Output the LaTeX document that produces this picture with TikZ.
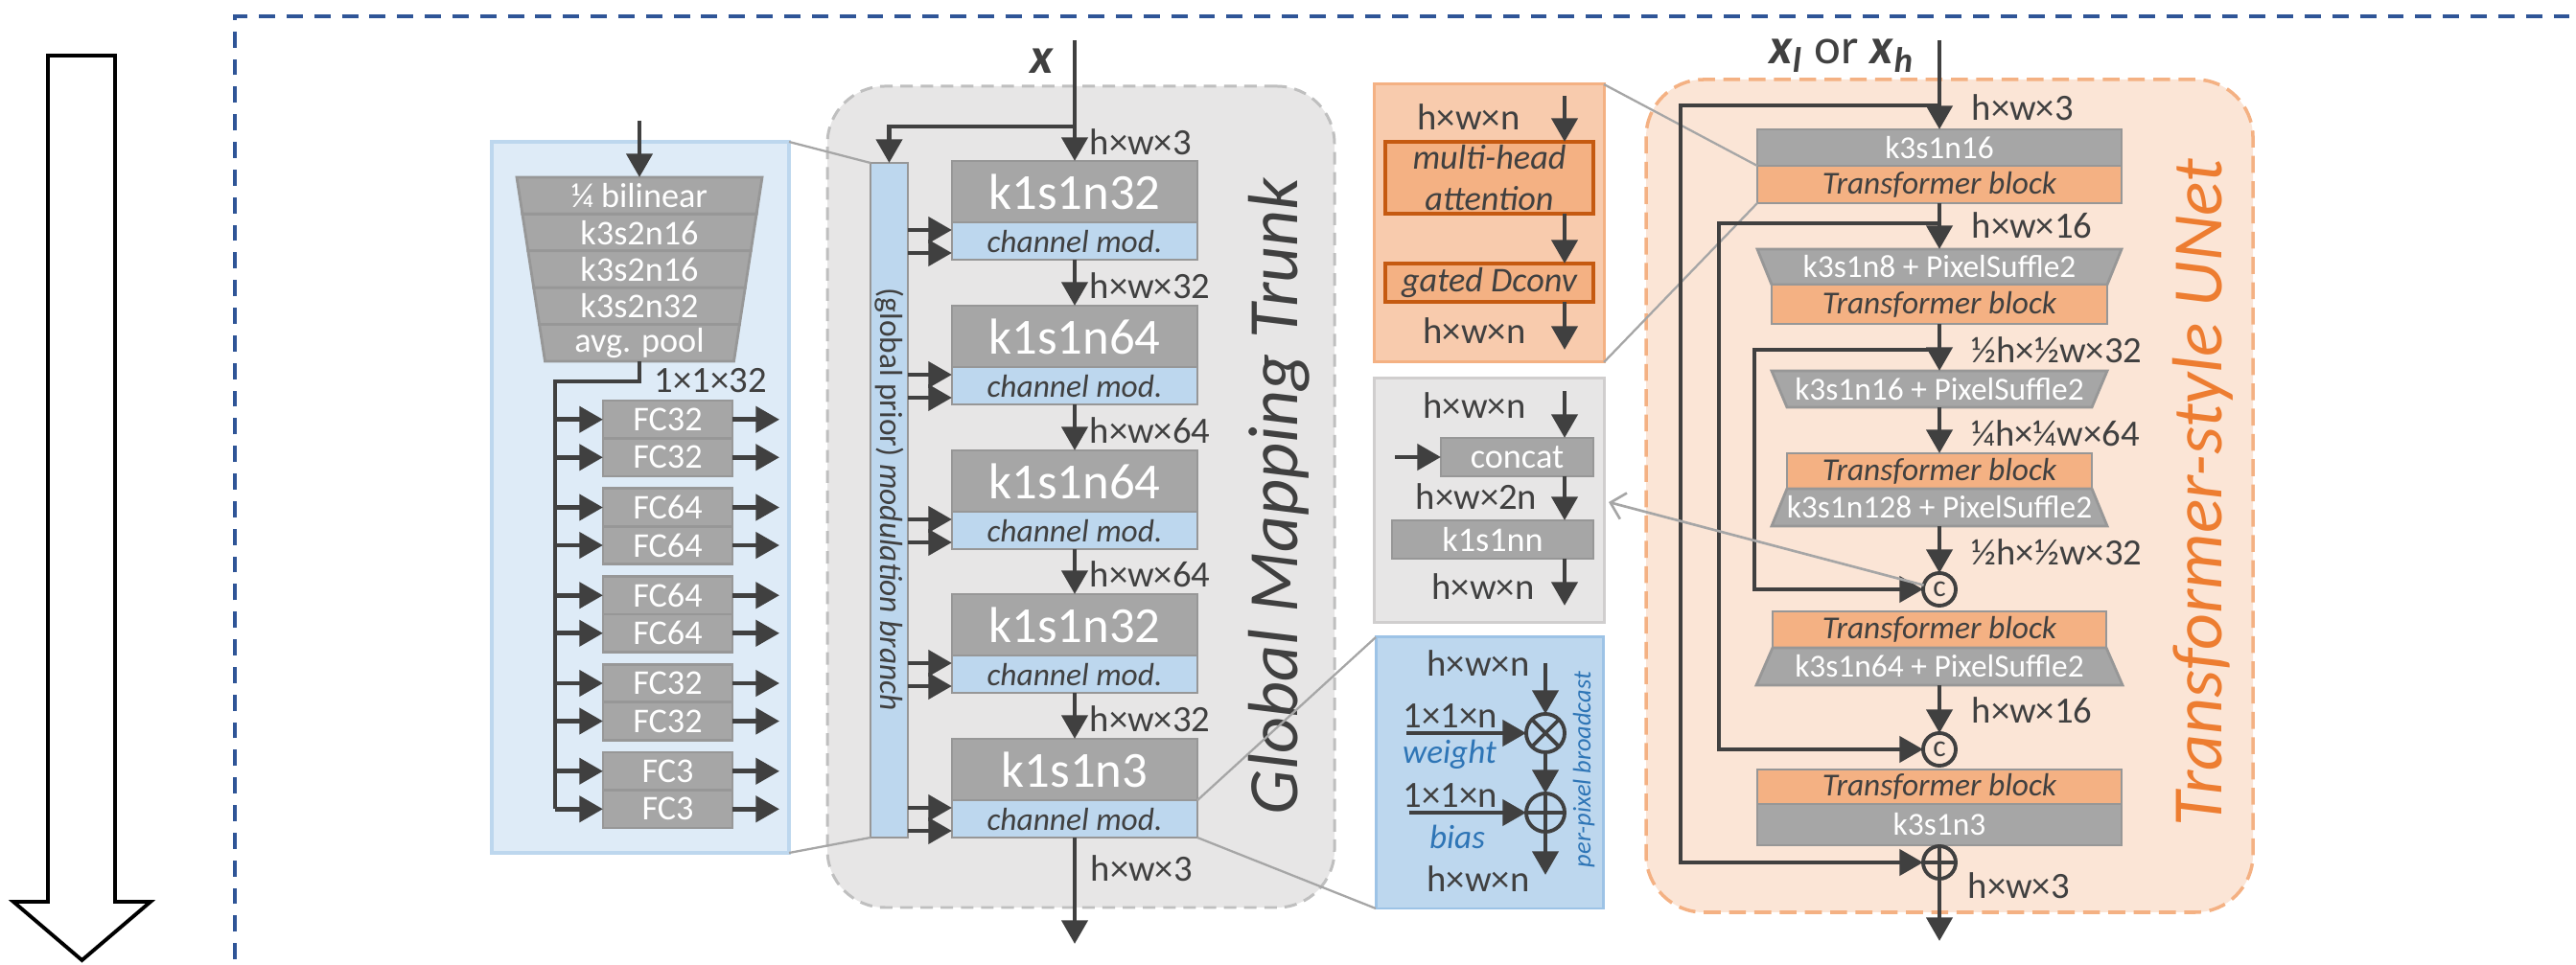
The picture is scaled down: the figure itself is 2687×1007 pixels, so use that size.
\documentclass[tikz,border=0pt]{standalone}
\usepackage{fontspec}
\setmainfont{Carlito}
\usetikzlibrary{arrows.meta}
\definecolor{dk}{HTML}{404040}
\definecolor{gbf}{HTML}{A6A6A6}
\definecolor{gbd}{HTML}{979797}
\definecolor{bmod}{HTML}{BDD7EE}
\definecolor{pnlf}{HTML}{DEEBF7}
\definecolor{pnld}{HTML}{BDD7EE}
\definecolor{trf}{HTML}{E7E6E6}
\definecolor{trd}{HTML}{BFBFBF}
\definecolor{orf}{HTML}{F8CBAD}
\definecolor{ord}{HTML}{F4B183}
\definecolor{orin}{HTML}{F4B183}
\definecolor{ordk}{HTML}{C55A11}
\definecolor{unf}{HTML}{FBE5D6}
\definecolor{blt}{HTML}{2E75B6}
\definecolor{ttl}{HTML}{ED7D31}
\definecolor{outb}{HTML}{2F5597}
\definecolor{cng}{HTML}{A6A6A6}
\definecolor{bdd}{HTML}{9DC3E6}
\definecolor{gdd}{HTML}{D0CECE}
\newcommand\fbig{\fontsize{15}{18}\selectfont}
\newcommand\fsm{\fontsize{9.5}{11.5}\selectfont}
\newcommand\fmd{\fontsize{10.3}{12}\selectfont}
\newcommand\fdim{\fontsize{11}{13}\selectfont}
\newcommand\ftitle{\fontsize{21}{24}\selectfont\itshape}
\newcommand\ftiny{\fontsize{7.5}{9}\selectfont}
\newcommand\mkbox[7]{\node[#2, minimum width={(#5-#3)*0.01cm}, minimum height={(#6-#4)*0.01cm}] (#1) at ({(#3+#5)/2},{(#4+#6)/2}) {#7};}
\begin{document}
\begin{tikzpicture}[x=0.01cm,y=-0.01cm,
  gb/.style={draw=gbd, fill=gbf, line width=0.8pt, inner sep=0pt, outer sep=0pt, text=white, font=\fsm},
  bm/.style={gb, fill=bmod, text=dk, font=\fsm\itshape},
  tb/.style={gb, fill=orin, text=dk, font=\fsm\itshape},
  tx/.style={inner sep=0pt, outer sep=0pt, text=white, font=\fsm},
  tp/.style={draw=gbd, fill=gbf, line width=0.8pt},
  dl/.style={inner sep=0pt, text=dk, font=\fdim, anchor=west},
  dc/.style={inner sep=0pt, text=dk, font=\fdim},
  bl/.style={inner sep=0pt, text=blt, font=\fontsize{10}{12}\selectfont\itshape},
  ar/.style={draw=dk, line width=1.4pt, -{Triangle[length=7pt,width=7.6pt]}},
  ln/.style={draw=dk, line width=1.4pt},
  cn/.style={draw=cng, line width=0.65pt},
  op/.style={circle, draw=dk, line width=1.1pt, inner sep=0pt, outer sep=0pt, text=dk, font=\fontsize{9}{10}\selectfont},
  pn/.style={draw=pnld, fill=pnlf, line width=1pt, inner sep=0pt, outer sep=0pt},
  trk/.style={draw=trd, fill=trf, line width=0.85pt, dash pattern=on 3.7pt off 2.3pt, rounded corners=0.6cm, inner sep=0pt, outer sep=0pt},
  unt/.style={draw=ord, fill=unf, line width=1pt, dash pattern=on 5pt off 2.5pt, rounded corners=0.6cm, inner sep=0pt, outer sep=0pt},
  odx/.style={draw=ord, fill=orf, line width=0.85pt, inner sep=0pt, outer sep=0pt},
  gdx/.style={draw=gdd, fill=trf, line width=0.85pt, inner sep=0pt, outer sep=0pt},
  bdx/.style={draw=bdd, fill=bmod, line width=0.85pt, inner sep=0pt, outer sep=0pt},
  ib/.style={draw=ordk, fill=orin, line width=1.1pt, inner sep=0pt, outer sep=0pt, text=dk, font=\fmd\itshape, align=center},
  mbx/.style={draw=gbd, fill=bmod, line width=0.8pt, inner sep=0pt, outer sep=0pt}
]
\useasboundingbox (0,0) rectangle (2687,1007);
\clip (0,0) rectangle (2687,1007);

% outer dashed frame
\draw[outb, line width=0.9pt, dash pattern=on 4.8pt off 3.4pt] (245,1030) -- (245,17) -- (2720,17);

% big white arrow
\draw[black, line width=1.1pt, fill=white] (50,58) -- (120,58) -- (120,941) -- (157,941) -- (85.5,1002) -- (14,941) -- (50,941) -- cycle;

% containers
\mkbox{pnl}{pn}{513}{148}{823}{890}{}
\mkbox{trunk}{trk}{863}{90}{1392}{947}{}
\mkbox{unet}{unt}{1717}{83}{2350}{952}{}
\mkbox{od}{odx}{1433}{88}{1673}{378}{}
\mkbox{gd}{gdx}{1433}{395}{1673}{650}{}
\mkbox{bd}{bdx}{1435}{665}{1672}{948}{}

% ---------------- left panel ----------------
\coordinate (pin) at (667,126);
\foreach \i/\lab in {0/{¼ bilinear},1/k3s2n16,2/k3s2n16,3/k3s2n32,4/{avg. pool}}{
  \pgfmathsetmacro\ya{185+38.4*\i}
  \pgfmathsetmacro\yb{\ya+38.4}
  \pgfmathsetmacro\ha{128-5.9*\i}
  \pgfmathsetmacro\hb{\ha-5.9}
  \path[tp] ({667-\ha},\ya) -- ({667+\ha},\ya) -- ({667+\hb},\yb) -- ({667-\hb},\yb) -- cycle;
  \node[tx, font=\fmd, minimum height=0.384cm] (stk\i) at (667,{(\ya+\yb)/2}) {\lab};
}
\draw[ar] (pin) -- (stk0.north);
\node[dl] (p32) at (682,397) {1×1×32};
\coordinate (bus) at (579,398);
\foreach \i/\lab in {0/FC32,1/FC64,2/FC64,3/FC32,4/FC3}{
  \pgfmathsetmacro\ty{418+91.75*\i}
  \node[gb, font=\fmd, minimum width=1.35cm, minimum height=0.395cm, anchor=north] (fa\i) at (696.5,\ty) {\lab};
  \node[gb, font=\fmd, minimum width=1.35cm, minimum height=0.395cm, anchor=north] (fb\i) at (fa\i.south) {\lab};
}
\draw[ln] (stk4.south) |- (bus) -- (fb4.west -| bus);
\foreach \i in {0,...,4}{
  \draw[ar] (fa\i.west -| bus) -- (fa\i.west);
  \draw[ar] (fb\i.west -| bus) -- (fb\i.west);
  \draw[ar] (fa\i.east) -- ++(49,0);
  \draw[ar] (fb\i.east) -- ++(49,0);
}

% ---------------- trunk ----------------
\mkbox{mb}{mbx}{908}{170}{947}{874}{}
\node[rotate=-90, inner sep=0pt, text=dk, font=\fsm] (mbt) at (927.5,521) {(global prior) \textit{modulation branch}};
\draw[cn] (pnl.north east) -- (mb.north west);
\draw[cn] (pnl.south east) -- (mb.south west);
\coordinate (xin) at (1121,42);
\coordinate (brj) at (1121,132);
\node[inner sep=0pt, anchor=base, text=dk, font=\fbig\bfseries\itshape] (xl) at (1087,77) {x};
\foreach \i/\lab/\t in {1/k1s1n32/168,2/k1s1n64/319,3/k1s1n64/470,4/k1s1n32/620,5/k1s1n3/771}{
  \node[gb, font=\fbig, minimum width=2.56cm, minimum height=0.64cm, anchor=north] (g\i) at (1121,\t) {\lab};
  \node[bm, minimum width=2.56cm, minimum height=0.39cm, anchor=north] (m\i) at (g\i.south) {channel mod.};
  \pgfmathsetmacro\ya{\t+72}
  \pgfmathsetmacro\yb{\t+96}
  \draw[ar] (mb.east |- 0,\ya) -- (m\i.west |- 0,\ya);
  \draw[ar] (mb.east |- 0,\yb) -- (m\i.west |- 0,\yb);
}
\draw[ar] (xin) -- (g1.north);
\draw[ar] (brj) -| (mb.north);
\foreach \a/\b in {1/2,2/3,3/4,4/5} \draw[ar] (m\a.south) -- (g\b.north);
\coordinate (tout) at (1121,985);
\draw[ar] (m5.south) -- (tout);
\node[dl] (dt0) at (1136,148) {h×w×3};
\node[dl] (dt1) at (1136,298) {h×w×32};
\node[dl] (dt2) at (1136,449) {h×w×64};
\node[dl] (dt3) at (1136,599) {h×w×64};
\node[dl] (dt4) at (1136,750) {h×w×32};
\node[dl] (dt5) at (1137,906) {h×w×3};
\node[rotate=90, anchor=base, inner sep=0pt, font=\ftitle, text=dk] (tt) at (1353,518) {Global Mapping Trunk};
\draw[cn] (g5.south east) -- (bd.north west);
\draw[cn] (m5.south east) -- (bd.south west);

% ---------------- orange detail ----------------
\node[dc] (od1) at (1532,122) {h×w×n};
\coordinate (oda) at (1632,100);
\mkbox{mha}{ib}{1445}{148}{1662}{223}{multi-head\\attention}
\mkbox{gdc}{ib}{1445}{275}{1662}{315}{gated Dconv}
\draw[ar] (oda) -- (oda |- mha.north);
\draw[ar] (oda |- mha.south) -- (oda |- gdc.north);
\coordinate (odb) at (1632,365);
\draw[ar] (oda |- gdc.south) -- (odb);
\node[dc] (od2) at (1538,345) {h×w×n};

% ---------------- gray detail ----------------
\node[dc] (gd1) at (1538,423) {h×w×n};
\coordinate (gda) at (1632,408);
\mkbox{cat}{gb,font=\fmd}{1503}{457}{1662}{497}{concat}
\draw[ar] (gda) -- (gda |- cat.north);
\coordinate (gdl) at (1455,477);
\draw[ar] (gdl) -- (cat.west |- gdl);
\node[dc] (gd2) at (1540,518) {h×w×2n};
\mkbox{kn}{gb,font=\fmd}{1452}{543}{1662}{583}{k1s1nn}
\draw[ar] (gda |- cat.south) -- (gda |- kn.north);
\coordinate (gdb) at (1632,632);
\draw[ar] (gda |- kn.south) -- (gdb);
\node[dc] (gd3) at (1547,612) {h×w×n};

% ---------------- blue detail ----------------
\node[dc] (bd1) at (1542,692) {h×w×n};
\coordinate (bda) at (1612,692);
\node[op, minimum size=0.4cm] (mul) at (1612,765) {};
\draw[dk, line width=1.1pt] (mul.north west) -- (mul.south east) (mul.north east) -- (mul.south west);
\draw[ar] (bda) -- (mul.north);
\node[dc] (bd2) at (1513,747) {1×1×n};
\coordinate (bdw) at (1467,765);
\draw[ar] (bdw) -- (mul.west);
\node[bl] (bd3) at (1512,787) {weight};
\node[op, minimum size=0.4cm] (add) at (1612,848) {};
\draw[dk, line width=1.1pt] (add.north) -- (add.south) (add.west) -- (add.east);
\draw[ar] (mul.south) -- (add.north);
\node[dc] (bd4) at (1513,830) {1×1×n};
\coordinate (bdb) at (1470,848);
\draw[ar] (bdb) -- (add.west);
\node[bl] (bd5) at (1520,873) {bias};
\coordinate (bdo) at (1612,913);
\draw[ar] (add.south) -- (bdo);
\node[dc] (bd6) at (1542,917) {h×w×n};
\node[bl, font=\ftiny\itshape, rotate=90] (bd7) at (1652,803) {per-pixel broadcast};

% ---------------- UNet ----------------
\mkbox{u1g}{gb}{1833}{135}{2213}{173}{k3s1n16}
\mkbox{u1t}{tb}{1833}{173}{2213}{212}{Transformer block}
\draw[cn] (od.north east) -- (u1t.north west);
\draw[cn] (od.south east) -- (u1t.south west);
\path[tp] (1833,260) -- (2213,260) -- (2198,297) -- (1848,297) -- cycle;
\node[tx, minimum height=0.37cm] (u2g) at (2023,278.5) {k3s1n8 + PixelSuffle2};
\mkbox{u2t}{tb}{1848}{297}{2198}{338}{Transformer block}
\path[tp] (1848,387) -- (2198,387) -- (2182,425) -- (1864,425) -- cycle;
\node[tx, minimum height=0.38cm] (u3g) at (2023,406) {k3s1n16 + PixelSuffle2};
\mkbox{u4t}{tb}{1864}{473}{2182}{510}{Transformer block}
\path[tp] (1864,510) -- (2182,510) -- (2198,549) -- (1848,549) -- cycle;
\node[tx, minimum height=0.39cm] (u4g) at (2023,529.5) {k3s1n128 + PixelSuffle2};
\node[op, minimum size=0.34cm] (c1) at (2023,615) {c};
\mkbox{u5t}{tb}{1849}{638}{2197}{676}{Transformer block}
\path[tp] (1849,676) -- (2197,676) -- (2214,715) -- (1832,715) -- cycle;
\node[tx, minimum height=0.39cm] (u5g) at (2023,695.5) {k3s1n64 + PixelSuffle2};
\node[op, minimum size=0.34cm] (c2) at (2023,782) {c};
\mkbox{u6t}{tb}{1833}{803}{2213}{839}{Transformer block}
\mkbox{u6g}{gb}{1833}{839}{2213}{882}{k3s1n3}
\node[op, minimum size=0.34cm] (pl) at (2023,900) {};
\draw[dk, line width=1.1pt] (pl.north) -- (pl.south) (pl.west) -- (pl.east);

\coordinate (uin) at (2023,42);
\coordinate (j1) at (2023,110);
\coordinate (k1) at (1753,110);
\coordinate (j2) at (2023,233);
\coordinate (k2) at (1793,233);
\coordinate (j3) at (2023,365);
\coordinate (k3) at (1830,365);
\draw[ar] (j1) -- (k1) |- (pl.west);
\draw[ar] (j2) -- (k2) |- (c2.west);
\draw[ar] (j3) -- (k3) |- (c1.west);
\draw[ar] (uin) -- (u1g.north);
\draw[ar] (u1t.south) -- (u2g.north);
\draw[ar] (u2t.south) -- (u3g.north);
\draw[ar] (u3g.south) -- (u4t.north);
\draw[ar] (u4g.south) -- (c1.north);
\draw[ar] (u5g.south) -- (c2.north);
\coordinate (uout) at (2023,982);
\draw[ar] (pl.south) -- (uout);
\coordinate (gtip) at (1678,524);
\draw[cn, line width=0.75pt, -{Straight Barb[length=4pt,width=8pt]}] (c1) -- (gtip);

\node[inner sep=0pt, anchor=base, text=dk, font=\fbig] (xlh) at (1921,67) {\textbf{\textit{x}}\textsubscript{\textbf{\textit{l}}} or \textbf{\textit{x}}\textsubscript{\textbf{\textit{h}}}};
\node[dl] (du0) at (2056,112) {h×w×3};
\node[dl] (du1) at (2056,235) {h×w×16};
\node[dl] (du2) at (2056,365) {½h×½w×32};
\node[dl] (du3) at (2056,452) {¼h×¼w×64};
\node[dl] (du4) at (2056,576) {½h×½w×32};
\node[dl] (du5) at (2056,741) {h×w×16};
\node[dl] (du6) at (2052,924) {h×w×3};
\node[rotate=90, anchor=base, inner sep=0pt, font=\ftitle, text=ttl] (ut) at (2317,514) {Transformer-style UNet};
\end{tikzpicture}
\end{document}
